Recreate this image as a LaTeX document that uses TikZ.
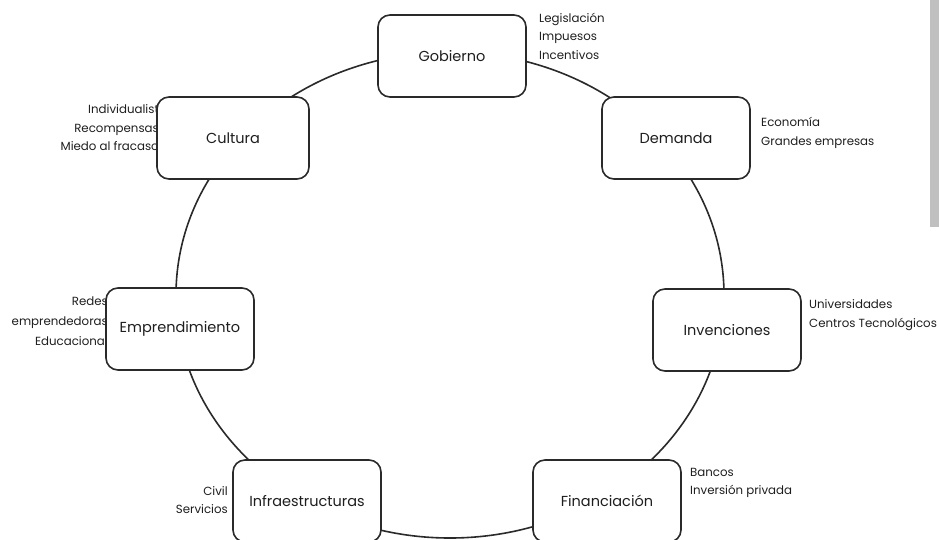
\documentclass[tikz,border=0pt]{standalone}
\usepackage{fontspec}
\setmainfont{Poppins}
\usetikzlibrary{shapes.geometric,positioning}
\definecolor{LineGray}{HTML}{2A2A2A}
\definecolor{TextGray}{HTML}{1E1E1E}
\definecolor{BarGray}{HTML}{C0C0C0}

\begin{document}
\begin{tikzpicture}[x=1pt,y=-1pt,
  factor/.style={rectangle,rounded corners=12pt,draw=LineGray,line width=1.6pt,
                 fill=white,minimum width=148pt,minimum height=82pt,
                 text=TextGray,font=\fontsize{14.5}{17}\selectfont},
  note/.style={inner sep=0pt,text=TextGray,font=\fontsize{11.8}{18.5}\selectfont},
  ring/.style={ellipse,draw=LineGray,line width=1.6pt,inner sep=0pt}
]
\useasboundingbox (0,0) rectangle (939,539);
\clip (0,0) rectangle (939,539);

% the cycle behind the boxes
\node[ring,minimum width=548pt,minimum height=486pt] (cycle) at (450,295) {};

% side notes
\node[note,align=left,anchor=west]  (gobnote) at (539,36)  {Legislación\\Impuesos\\Incentivos};
\node[note,align=left,anchor=west]  (demnote) at (761,133) {Economía\\Grandes empresas};
\node[note,align=left,anchor=west]  (invnote) at (809,315) {Universidades\\Centros Tecnológicos};
\node[note,align=left,anchor=west]  (finnote) at (690,483) {Bancos\\Inversión privada};
\node[note,align=right,anchor=east] (culnote) at (159,128) {Individualist\\Recompensas\\Miedo al fracaso};
\node[note,align=right,anchor=east,font=\fontsize{11.8}{20}\selectfont] (empnote) at (108,321) {Redes\\emprendedoras\\Educacional};
\node[note,align=right,anchor=east] (infnote) at (228,500) {Civil\\Servicios};

% factors
\node[factor] (gob) at (452,56)  {Gobierno};
\node[factor] (dem) at (676,138) {Demanda};
\node[factor] (inv) at (727,330) {Invenciones};
\node[factor] (fin) at (607,501) {Financiación};
\node[factor] (inf) at (307,501) {Infraestructuras};
\node[factor] (emp) at (180,329) {Emprendimiento};
\node[factor,minimum width=152pt] (cul) at (233,138) {Cultura};

% scroll bar at the right edge
\fill[BarGray] (930,0) rectangle (939,227);
\end{tikzpicture}
\end{document}
